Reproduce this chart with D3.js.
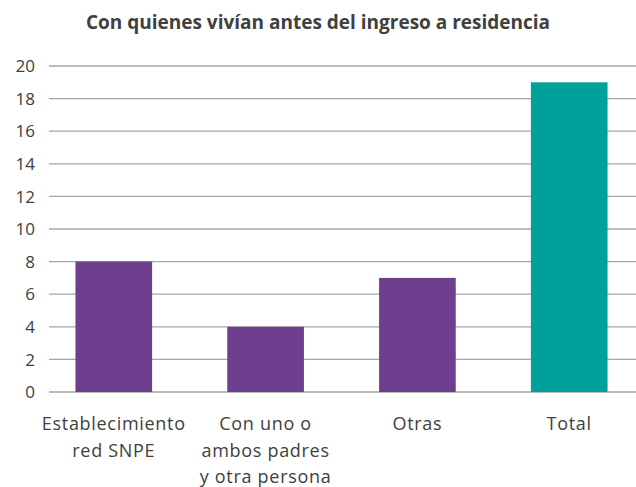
<!DOCTYPE html>
<html><head><meta charset="utf-8">
<script src="https://cdn.jsdelivr.net/npm/d3@7"></script>
<style>
html,body{margin:0;padding:0;background:#fff;}
text{font-family:"Open Sans","Noto Sans",sans-serif;fill:#404040;}
</style></head>
<body><svg id="c" width="636" height="487"></svg>
<script>
const title = "Con quienes vivían antes del ingreso a residencia";
const categories = [["Establecimiento","red SNPE"],["Con uno o","ambos padres","y otra persona"],["Otras"],["Total"]];
const values = [8,4,7,19];
const barColors = ["#6E3F8F","#6E3F8F","#6E3F8F","#00A19A"];
const yTicks = [0,2,4,6,8,10,12,14,16,18,20];

const svg = d3.select("#c");
const x = d3.scaleBand().domain(d3.range(categories.length)).range([37.5,645.5]).paddingInner(0.495).paddingOuter(0.25);
const y = d3.scaleLinear().domain([0,20]).range([392,66]);

svg.append("text").attr("x",318).attr("y",29).attr("text-anchor","middle")
  .attr("font-size",19).attr("font-weight","bold").attr("fill","#333").text(title);

const g = svg.append("g");
g.selectAll("line.grid").data(yTicks).join("line").attr("class","grid")
  .attr("x1",49).attr("x2",636).attr("y1",d=>y(d)).attr("y2",d=>y(d))
  .attr("stroke","#a6a6a6").attr("stroke-width",1.3);
g.selectAll("text.yt").data(yTicks).join("text").attr("class","yt")
  .attr("x",35).attr("y",d=>y(d)).attr("dy","0.36em").attr("text-anchor","end")
  .attr("font-size",17).text(d=>d);

g.selectAll("rect").data(values).join("rect")
  .attr("x",(d,i)=>x(i)).attr("width",x.bandwidth())
  .attr("y",d=>y(d)).attr("height",d=>y(0)-y(d)).attr("fill",(d,i)=>barColors[i]);

categories.forEach((lines,i)=>{
  const t = g.append("text").attr("text-anchor","middle").attr("font-size",18).attr("letter-spacing",0.7);
  lines.forEach((l,j)=>t.append("tspan").attr("x",x(i)+x.bandwidth()/2).attr("y",430+26.5*j).text(l));
});
</script></body></html>
